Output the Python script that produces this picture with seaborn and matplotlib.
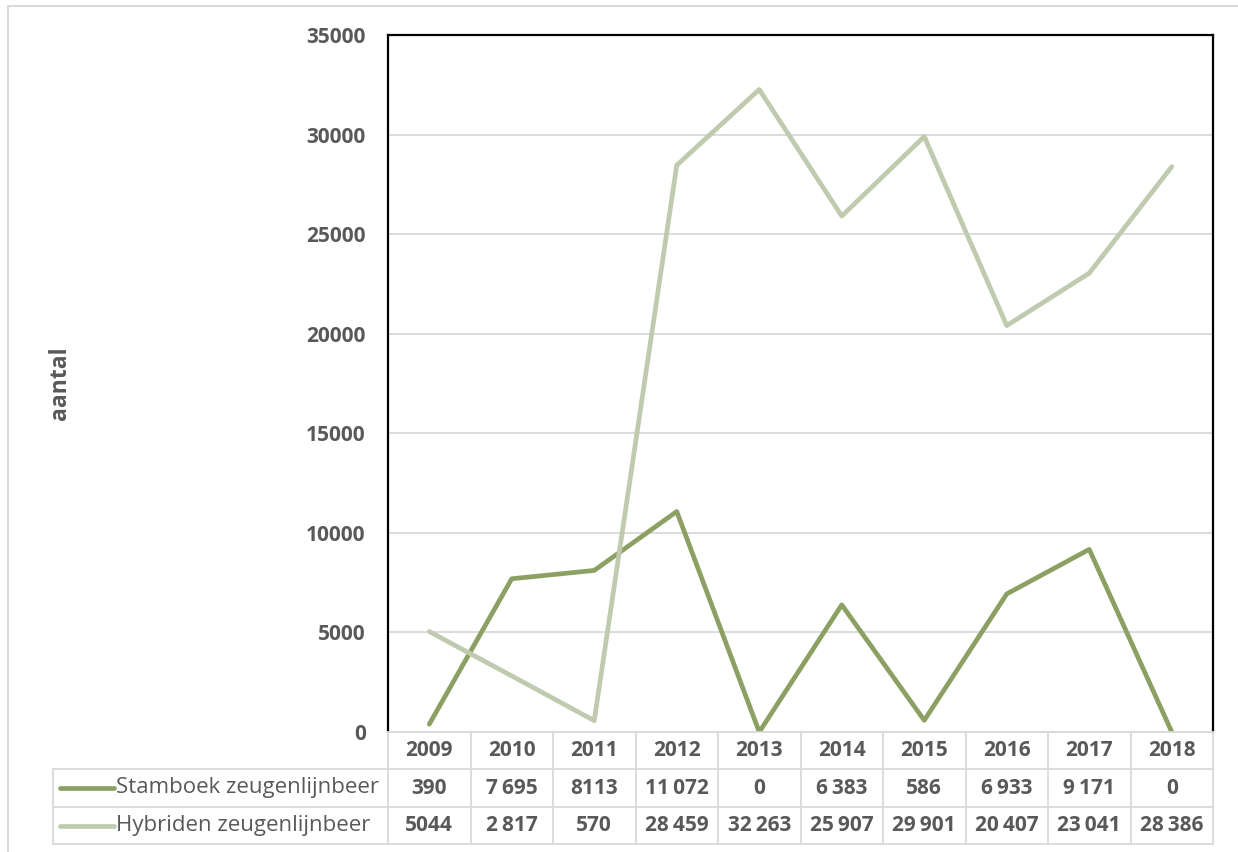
import pandas as pd
import seaborn as sns
import matplotlib.pyplot as plt
import matplotlib.transforms as mtransforms
from matplotlib.lines import Line2D
from matplotlib.patches import Rectangle

# data
jaren = ['2009', '2010', '2011', '2012', '2013', '2014', '2015', '2016', '2017', '2018']
reeksen = ['Stamboek zeugenlijnbeer', 'Hybriden zeugenlijnbeer']
stamboek = [390, 7695, 8113, 11072, 0, 6383, 586, 6933, 9171, 0]
hybriden = [5044, 2817, 570, 28459, 32263, 25907, 29901, 20407, 23041, 28386]
stamboek_tekst = ['390', '7\u2009695', '8113', '11\u2009072', '0', '6\u2009383', '586', '6\u2009933', '9\u2009171', '0']
hybriden_tekst = ['5044', '2\u2009817', '570', '28\u2009459', '32\u2009263', '25\u2009907', '29\u2009901', '20\u2009407', '23\u2009041', '28\u2009386']
y_ticks = [0, 5000, 10000, 15000, 20000, 25000, 30000, 35000]
kleuren = ['#8DA063', '#BFCAAE']

df = pd.DataFrame({
    'positie': list(range(len(jaren))) * 2,
    'aantal': stamboek + hybriden,
    'reeks': [reeksen[0]] * len(jaren) + [reeksen[1]] * len(jaren),
})

sns.set_style('white')
plt.rcParams['font.family'] = ['Open Sans', 'DejaVu Sans']

W, H = 1238, 852
grijs_tekst = '#595959'
grijs_lijn = '#D9D9D9'
fs = 15

fig = plt.figure(figsize=(W / 100, H / 100), dpi=100)
ax = fig.add_axes([388 / W, 1 - 732 / H, (1213 - 388) / W, (732 - 35) / H])

sns.lineplot(data=df, x='positie', y='aantal', hue='reeks', hue_order=reeksen,
             palette=dict(zip(reeksen, kleuren)), linewidth=3.4, legend=False, ax=ax)

ax.set_xlim(-0.5, len(jaren) - 0.5)
ax.set_ylim(0, 35000)
ax.set_yticks(y_ticks)
ax.set_yticklabels([str(t) for t in y_ticks], fontsize=fs, fontweight='bold', color=grijs_tekst)
ax.tick_params(axis='y', length=0, pad=16)
ax.set_xticks([])
ax.set_xlabel('')
ax.set_ylabel('')
ax.yaxis.grid(True, color=grijs_lijn, linewidth=1.3)
ax.set_axisbelow(True)
for kant in ['top', 'left', 'right']:
    ax.spines[kant].set_color('black')
    ax.spines[kant].set_linewidth(1.6)
ax.spines['bottom'].set_color(grijs_lijn)
ax.spines['bottom'].set_linewidth(1.3)

fig.text(60 / W, 1 - 383 / H, 'aantal', rotation=90, ha='center', va='center',
         fontsize=16.5, fontweight='bold', color=grijs_tekst)

# outer border
fig.add_artist(Rectangle((8 / W, -0.1), 1.2, 1 - 6 / H + 0.1, transform=fig.transFigure,
                         fill=False, edgecolor=grijs_lijn, linewidth=1.5))

# data table
def fy(p):
    return 1 - p / H

trans = mtransforms.blended_transform_factory(ax.transData, fig.transFigure)
rij_grenzen = [732, 769, 807, 844]
for k in range(len(jaren) + 1):
    fig.add_artist(Line2D([k - 0.5, k - 0.5], [fy(732), fy(844)], transform=trans,
                          color=grijs_lijn, linewidth=1.3))
for y in rij_grenzen[1:]:
    fig.add_artist(Line2D([53 / W, 1213 / W], [fy(y), fy(y)], transform=fig.transFigure,
                          color=grijs_lijn, linewidth=1.3))
fig.add_artist(Line2D([53 / W, 53 / W], [fy(769), fy(844)], transform=fig.transFigure,
                      color=grijs_lijn, linewidth=1.3))

rij_midden = [750.5, 788, 825.5]
for i, jaar in enumerate(jaren):
    fig.text(i, fy(rij_midden[0]), jaar, transform=trans, ha='center', va='center',
             fontsize=fs, fontweight='bold', color=grijs_tekst)
    fig.text(i, fy(rij_midden[1]), stamboek_tekst[i], transform=trans, ha='center', va='center',
             fontsize=fs, fontweight='bold', color=grijs_tekst)
    fig.text(i, fy(rij_midden[2]), hybriden_tekst[i], transform=trans, ha='center', va='center',
             fontsize=fs, fontweight='bold', color=grijs_tekst)

for naam, kleur, ym in zip(reeksen, kleuren, rij_midden[1:]):
    fig.add_artist(Line2D([60 / W, 114 / W], [fy(ym), fy(ym)], transform=fig.transFigure,
                          color=kleur, linewidth=3.4, solid_capstyle='round'))
    fig.text(116 / W, fy(ym), naam, ha='left', va='center', fontsize=16,
             fontweight='medium', color=grijs_tekst)

fig.savefig('out.png', dpi=100)
